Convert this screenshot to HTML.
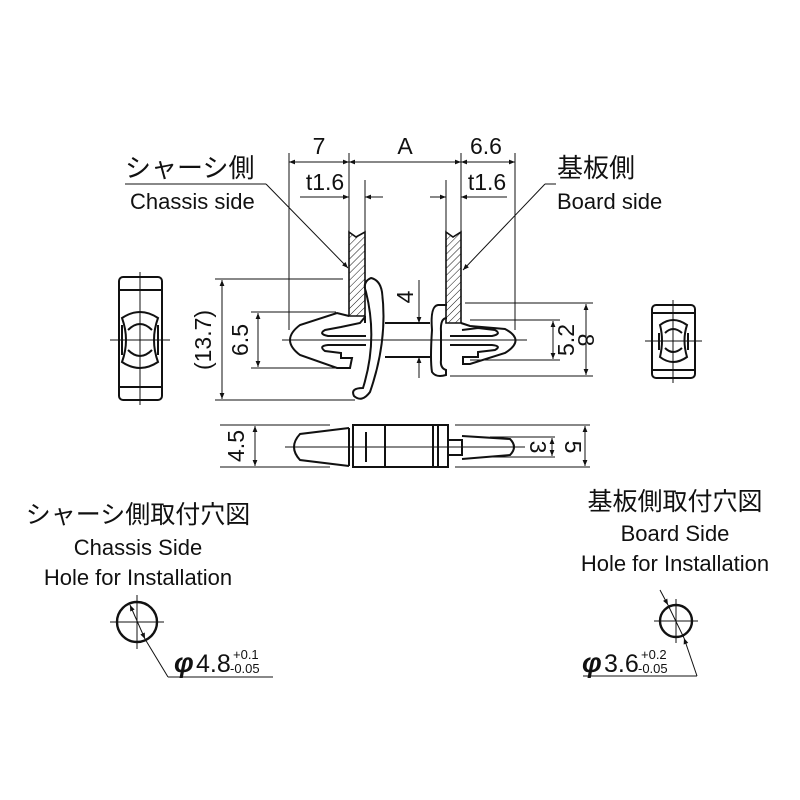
<!DOCTYPE html>
<html><head><meta charset="utf-8"><style>
html,body{margin:0;padding:0;background:#fff}
svg{display:block}
text{font-family:"Liberation Sans","Noto Sans CJK JP",sans-serif;fill:#111}
</style></head><body>
<svg width="800" height="800" viewBox="0 0 800 800" xmlns="http://www.w3.org/2000/svg">
<defs>
<marker id="a" viewBox="0 0 10 10" refX="10" refY="5" markerWidth="10" markerHeight="6" orient="auto-start-reverse" markerUnits="userSpaceOnUse"><path d="M0,1 L10,5 L0,9 z" fill="#111"/></marker>
<pattern id="h" width="5" height="5" patternUnits="userSpaceOnUse" patternTransform="rotate(45)"><line x1="0" y1="0" x2="0" y2="5" stroke="#111" stroke-width="1"/></pattern>
</defs>
<g stroke="#111" fill="none" stroke-width="1">
<line x1="125" y1="184" x2="266" y2="184"/>
<line x1="266" y1="184" x2="348" y2="268" marker-end="url(#a)"/>
<line x1="556" y1="184" x2="545" y2="184"/>
<line x1="545" y1="184" x2="463" y2="270" marker-end="url(#a)"/>
<line x1="289" y1="153" x2="289" y2="330"/>
<line x1="349" y1="153" x2="349" y2="232"/>
<line x1="365" y1="180" x2="365" y2="232"/>
<line x1="446" y1="180" x2="446" y2="232"/>
<line x1="461" y1="153" x2="461" y2="232"/>
<line x1="515" y1="153" x2="515" y2="330"/>
<line x1="289" y1="162" x2="349" y2="162" marker-start="url(#a)" marker-end="url(#a)"/>
<line x1="349" y1="162" x2="461" y2="162" marker-start="url(#a)" marker-end="url(#a)"/>
<line x1="461" y1="162" x2="515" y2="162" marker-start="url(#a)" marker-end="url(#a)"/>
<line x1="300" y1="197" x2="349" y2="197" marker-end="url(#a)"/>
<line x1="383" y1="197" x2="365" y2="197" marker-end="url(#a)"/>
<line x1="430" y1="197" x2="446" y2="197" marker-end="url(#a)"/>
<line x1="507" y1="197" x2="461" y2="197" marker-end="url(#a)"/>
<path d="M349,316 V232 L356,237 L365,232 V316 Z" fill="url(#h)" stroke-width="1.6"/>
<path d="M446,323 V232 L453,237 L461,232 V323 Z" fill="url(#h)" stroke-width="1.6"/>
<line x1="282" y1="340" x2="527" y2="340"/>
<g stroke-width="2">
<path d="M349,316 L337,313 L300,325 Q280,340 300,355 L337,368 L350,368 L352,358 L341,358 L341,353 L325,351 Q318,346 328,345 L360,345"/>
<path d="M360,336 L328,336 Q318,334 325,330 L341,327 L360,323 L365,317"/>
<path d="M371,278 Q362,282 366,292 Q378,340 363,388 Q350,388 354,396 Q362,403 370,392 Q388,340 382,292 Q380,280 371,278 Z"/>
<path d="M365,316 L365,323 M360,336 L366,336 M360,345 L366,345"/>
<path d="M385,323 L430,323 M385,357 L430,357"/>
<path d="M447,305 L438,305 Q430,306 432,330 Q430,360 432,372 Q436,378 446,375 L446,370 Q440,368 441,360 L441,332 Q440,318 447,318"/>
<path d="M461,323 L470,326 L505,329 Q526,340 505,353 L470,364 L463,364 L463,357 L478,357 L478,352 L495,350 Q502,346 492,345 L450,345"/>
<path d="M450,336 L492,336 Q502,334 495,330 L478,328 L462,330"/>
</g>
<line x1="215" y1="279" x2="343" y2="279"/>
<line x1="215" y1="400" x2="355" y2="400"/>
<line x1="222" y1="280" x2="222" y2="399" marker-start="url(#a)" marker-end="url(#a)"/>
<line x1="251" y1="312" x2="336" y2="312"/>
<line x1="251" y1="368" x2="336" y2="368"/>
<line x1="258" y1="313" x2="258" y2="367" marker-start="url(#a)" marker-end="url(#a)"/>
<line x1="419" y1="280" x2="419" y2="323" marker-end="url(#a)"/>
<line x1="419" y1="378" x2="419" y2="357" marker-end="url(#a)"/>
<line x1="465" y1="303" x2="593" y2="303"/>
<line x1="470" y1="320" x2="560" y2="320"/>
<line x1="470" y1="360" x2="560" y2="360"/>
<line x1="450" y1="376" x2="593" y2="376"/>
<line x1="553" y1="321" x2="553" y2="359" marker-start="url(#a)" marker-end="url(#a)"/>
<line x1="586" y1="304" x2="586" y2="375" marker-start="url(#a)" marker-end="url(#a)"/>
<g stroke-width="2">
<rect x="119" y="277" width="43" height="123" rx="4"/>
<line x1="119" y1="290" x2="162" y2="290"/>
<line x1="119" y1="387" x2="162" y2="387"/>
<path d="M122,318 Q140,306 158,318 Q150,340 158,362 Q140,374 122,362 Q130,340 122,318 Z"/>
<path d="M128,330 Q140,318 152,330 M128,350 Q140,362 152,350"/>
<path d="M122,325 L122,355 M158,325 L158,355"/>
<rect x="652" y="305" width="43" height="73" rx="4"/>
<line x1="652" y1="313" x2="695" y2="313"/>
<line x1="652" y1="370" x2="695" y2="370"/>
<path d="M660,325 Q673,315 687,325 Q682,340 687,357 Q673,367 660,357 Q664,340 660,325 Z"/>
<path d="M665,333 Q673,325 682,333 M665,348 Q673,356 682,348"/>
<path d="M659,333 L659,350 M688,333 L688,350"/>
</g>
<line x1="140" y1="272" x2="140" y2="405"/>
<line x1="110" y1="340" x2="170" y2="340"/>
<line x1="673" y1="300" x2="673" y2="383"/>
<line x1="645" y1="341" x2="702" y2="341"/>
<g stroke-width="2">
<path d="M349,428 L300,434 Q288,447 300,460 L349,466"/>
<rect x="353" y="425" width="95" height="42"/>
<line x1="349" y1="428" x2="349" y2="466"/>
<line x1="366" y1="432" x2="366" y2="462"/>
<line x1="385" y1="425" x2="385" y2="467"/>
<line x1="433" y1="425" x2="433" y2="467"/>
<line x1="438" y1="425" x2="438" y2="467"/>
<path d="M448,440 L462,440 L462,455 L448,455"/>
<path d="M462,436 L510,439 Q518,447 510,455 L462,459"/>
</g>
<line x1="285" y1="447" x2="525" y2="447"/>
<line x1="220" y1="425" x2="330" y2="425"/>
<line x1="220" y1="467" x2="330" y2="467"/>
<line x1="255" y1="426" x2="255" y2="466" marker-start="url(#a)" marker-end="url(#a)"/>
<line x1="490" y1="437" x2="555" y2="437"/>
<line x1="490" y1="457" x2="555" y2="457"/>
<line x1="552" y1="438" x2="552" y2="456" marker-start="url(#a)" marker-end="url(#a)"/>
<line x1="455" y1="425" x2="590" y2="425"/>
<line x1="455" y1="467" x2="590" y2="467"/>
<line x1="585" y1="426" x2="585" y2="466" marker-start="url(#a)" marker-end="url(#a)"/>
<circle cx="137" cy="622" r="20" stroke-width="2.4"/>
<line x1="110" y1="622" x2="164" y2="622"/>
<line x1="137" y1="595" x2="137" y2="649"/>
<line x1="130" y1="605" x2="145" y2="639" marker-start="url(#a)" marker-end="url(#a)"/>
<line x1="145" y1="639" x2="168" y2="677"/>
<line x1="168" y1="677" x2="273" y2="677"/>
<circle cx="676" cy="621" r="16" stroke-width="2.4"/>
<line x1="654" y1="621" x2="698" y2="621"/>
<line x1="676" y1="599" x2="676" y2="643"/>
<line x1="660" y1="590" x2="668" y2="605" marker-end="url(#a)"/>
<line x1="697" y1="676" x2="684" y2="638" marker-end="url(#a)"/>
<line x1="668" y1="605" x2="684" y2="638"/>
<line x1="583" y1="676" x2="697" y2="676"/>
</g>
<text x="125" y="177" font-size="26">シャーシ側</text>
<text x="130" y="209" font-size="22">Chassis side</text>
<text x="557" y="177" font-size="26">基板側</text>
<text x="557" y="209" font-size="22">Board side</text>
<text x="319" y="154" font-size="23" text-anchor="middle">7</text>
<text x="405" y="154" font-size="23" text-anchor="middle">A</text>
<text x="486" y="154" font-size="23" text-anchor="middle">6.6</text>
<text x="325" y="190" font-size="23" text-anchor="middle">t1.6</text>
<text x="487" y="190" font-size="23" text-anchor="middle">t1.6</text>
<text transform="translate(211,340) rotate(-90)" font-size="23" text-anchor="middle">(13.7)</text>
<text transform="translate(248,340) rotate(-90)" font-size="23" text-anchor="middle">6.5</text>
<text transform="translate(413,297) rotate(-90)" font-size="23" text-anchor="middle">4</text>
<text transform="translate(574,340) rotate(-90)" font-size="23" text-anchor="middle">5.2</text>
<text transform="translate(578,340) rotate(90)" font-size="23" text-anchor="middle">8</text>
<text transform="translate(244,446) rotate(-90)" font-size="23" text-anchor="middle">4.5</text>
<text transform="translate(530,447) rotate(90)" font-size="23" text-anchor="middle">3</text>
<text transform="translate(565,447) rotate(90)" font-size="23" text-anchor="middle">5</text>
<text x="138" y="523" font-size="25" text-anchor="middle">シャーシ側取付穴図</text>
<text x="138" y="555" font-size="22" text-anchor="middle">Chassis Side</text>
<text x="138" y="585" font-size="22" text-anchor="middle">Hole for Installation</text>
<text x="675" y="510" font-size="25" text-anchor="middle">基板側取付穴図</text>
<text x="675" y="541" font-size="22" text-anchor="middle">Board Side</text>
<text x="675" y="571" font-size="22" text-anchor="middle">Hole for Installation</text>
<text x="174" y="672" font-size="28" font-style="italic" font-weight="bold">φ</text>
<text x="196" y="672" font-size="25">4.8</text>
<text x="233" y="659" font-size="13">+0.1</text>
<text x="230" y="673" font-size="13">-0.05</text>
<text x="582" y="672" font-size="28" font-style="italic" font-weight="bold">φ</text>
<text x="604" y="672" font-size="25">3.6</text>
<text x="641" y="659" font-size="13">+0.2</text>
<text x="638" y="673" font-size="13">-0.05</text>
</svg>
</body></html>
